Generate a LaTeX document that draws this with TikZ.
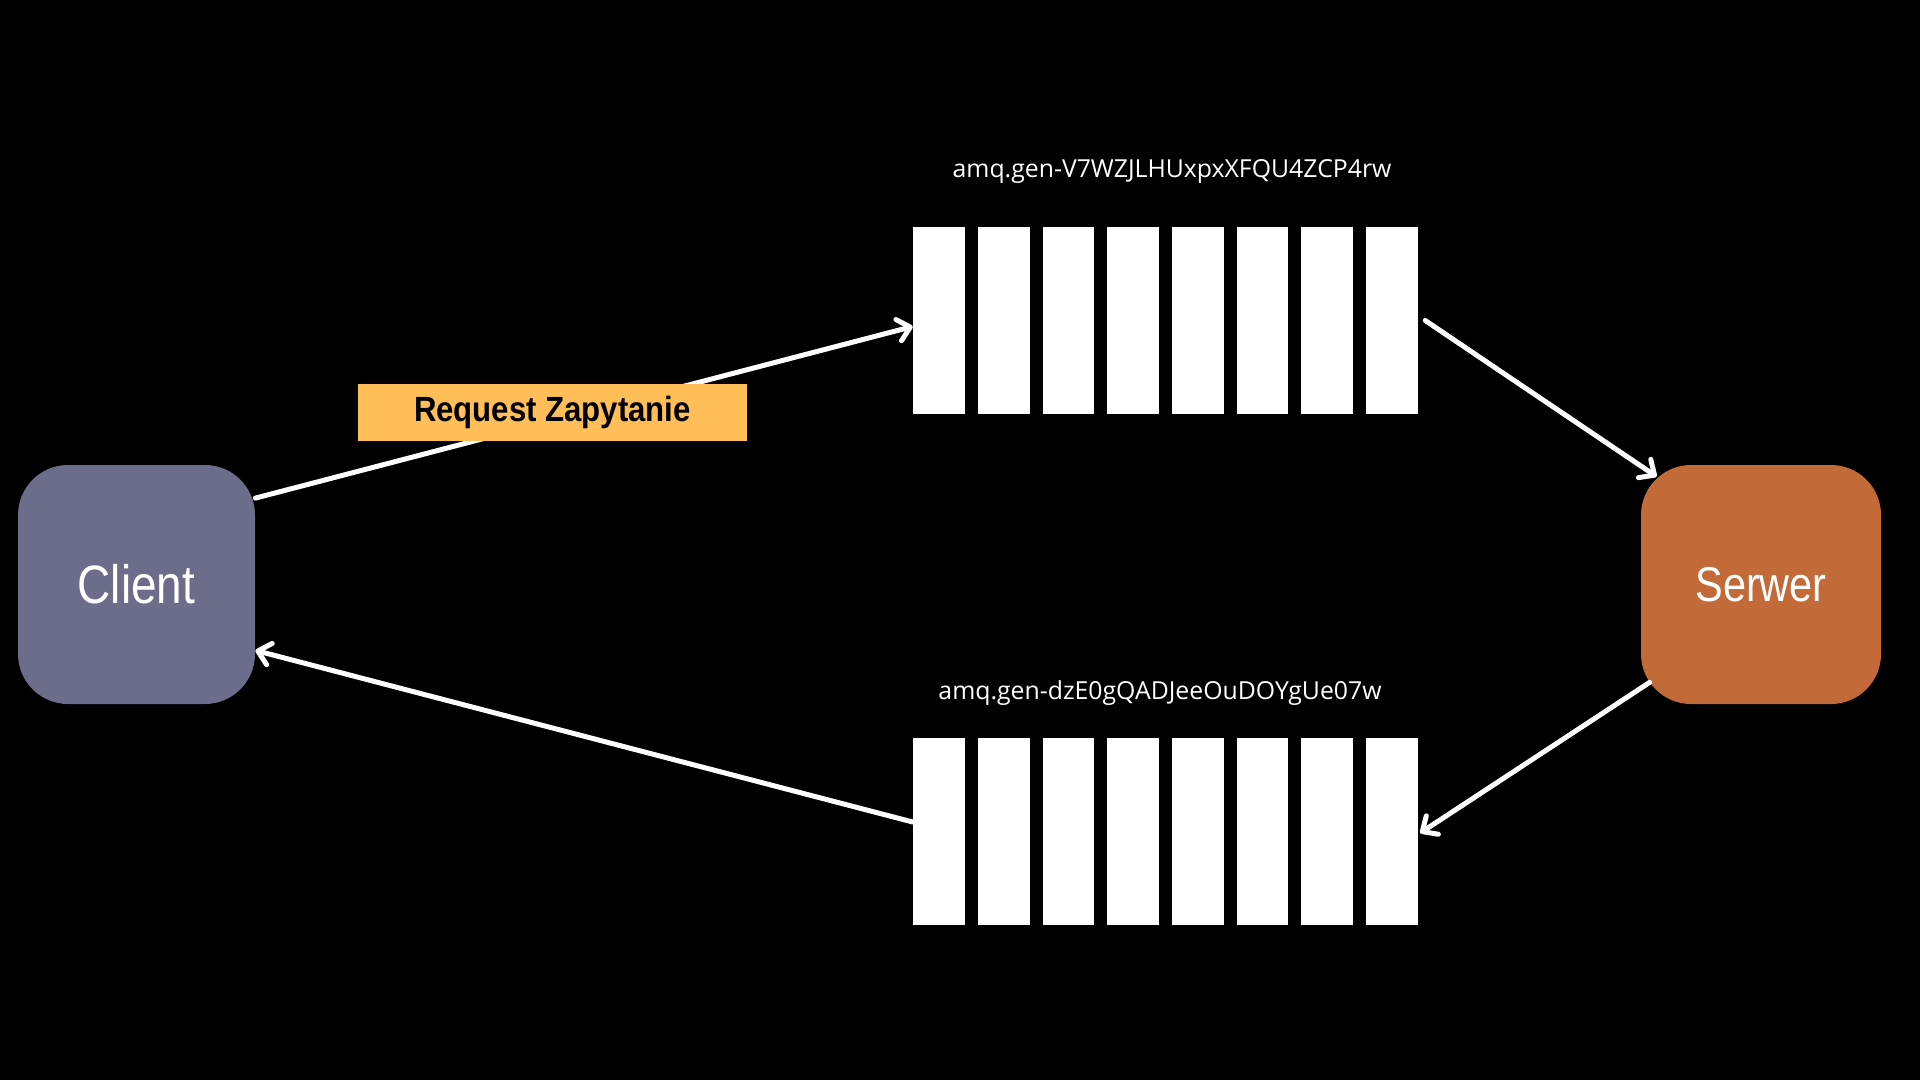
\documentclass[tikz,border=0pt]{standalone}
\usepackage{fontspec}
\setmainfont{Open Sans}
\newfontfamily\boxfont[FakeStretch=0.85]{Liberation Sans}
\newfontfamily\tagfont[FakeStretch=0.89]{Liberation Sans}
\usetikzlibrary{arrows.meta,calc}

\definecolor{clientgray}{HTML}{6C6D8A}
\definecolor{serwerorange}{HTML}{C26B38}
\definecolor{tagyellow}{HTML}{FFBE57}

\tikzset{
  endpoint/.style={rectangle, rounded corners=25pt, minimum width=118.5pt,
    minimum height=119.5pt, inner sep=0pt, text=white},
  bar/.style={rectangle, fill=white, minimum width=25.9pt,
    minimum height=93.5pt, inner sep=0pt},
  qname/.style={text=white, anchor=base, inner sep=0pt,
    font=\fontsize{12.4pt}{14pt}\selectfont},
  flow/.style={white, line width=2.5pt, line cap=round,
    -{Straight Barb[length=6pt,width=11pt,round]}}
}

\begin{document}
\begin{tikzpicture}[x=0.5pt, y=-0.5pt]

    % Draw background
    \fill[black] (0, 0) rectangle (1920, 1080);
    \useasboundingbox (0, 0) rectangle (1920, 1080);

    % Draw client and server
    \node[endpoint, fill=clientgray,
      font=\boxfont\fontsize{27pt}{30pt}\selectfont] (client) at (136.5, 584.5) {Client};
    \node[endpoint, fill=serwerorange, minimum width=120pt,
      font=\boxfont\fontsize{24.4pt}{27pt}\selectfont] (serwer) at (1761, 584.5) {Serwer};

    % Draw both queues, eight slots each
    \foreach \i in {0, ..., 7}{
      \node[bar] (req\i) at (939 + \i * 64.7, 320.5) {};
      \node[bar] (resp\i) at (939 + \i * 64.7, 831) {};
    }

    % Queue names
    \node[qname] (reqname) at (1172, 178) {amq.gen-V7WZJLHUxpxXFQU4ZCP4rw};
    \node[qname] (respname) at (1160, 699) {amq.gen-dzE0gQADJeeOuDOYgUe07w};

    % Arrows round the loop
    \draw[flow] (client.36) -- ($(req0.west) + (0, 6)$);
    \draw[flow] ($(req7.east) + (7, 0)$) -- ($(serwer.north west) + (16, 12)$);
    \draw[flow] ($(serwer.south west) + (9, -22)$) -- ($(resp7.east) + (2, 2)$);
    \draw[flow] ($(resp0.west) + (0, -9)$) -- (client.-29);

    % Request tag over the first arrow
    \node[fill=tagyellow, minimum width=194.5pt, minimum height=28.5pt,
      inner sep=0pt, font=\tagfont\bfseries\fontsize{17.5pt}{20pt}\selectfont]
      (request) at (552.5, 412.5) {Request Zapytanie};

  \end{tikzpicture}
\end{document}
